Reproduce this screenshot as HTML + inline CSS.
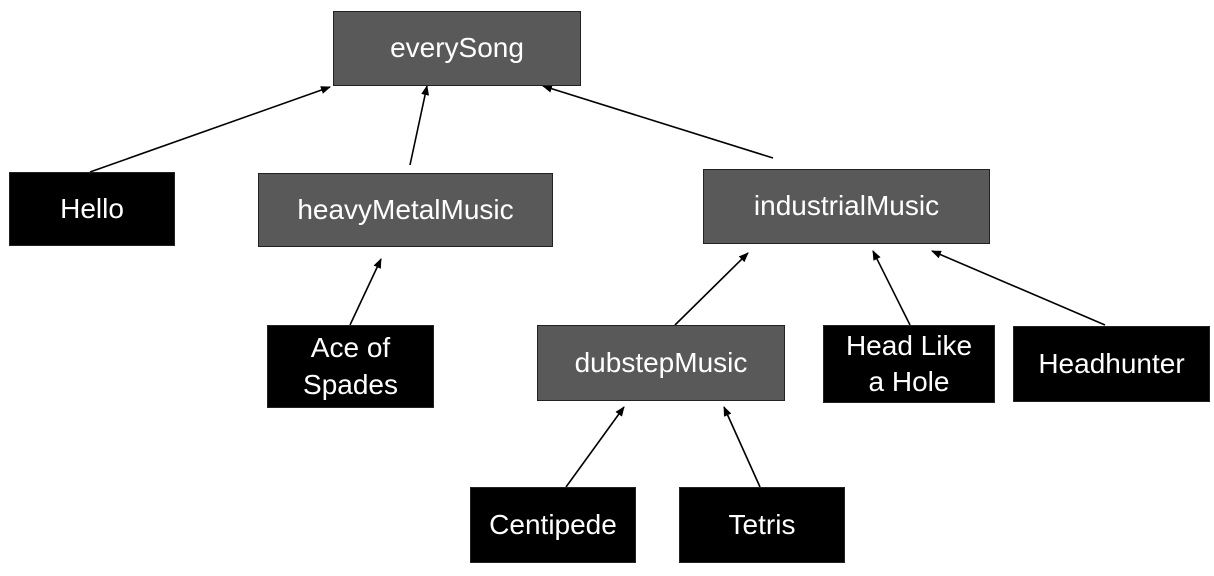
<!DOCTYPE html>
<html><head><meta charset="utf-8"><style>
body{margin:0;background:#fff;width:1214px;height:576px;overflow:hidden;position:relative;font-family:"Liberation Sans",sans-serif}
.b{position:absolute;box-sizing:border-box;border:1px solid #222;color:#fff;display:flex;align-items:center;justify-content:center;text-align:center;font-size:28px;line-height:1.3}
.g{background:#595959}.k{background:#000}
svg{position:absolute;left:0;top:0}
</style></head><body>
<svg width="1214" height="576">
<defs><marker id="a" markerWidth="10" markerHeight="8" refX="9" refY="4" orient="auto" markerUnits="userSpaceOnUse"><path d="M0,0L10,4L0,8z" fill="#000"/></marker></defs>
<g stroke="#000" stroke-width="1.6" marker-end="url(#a)">
<line x1="90" y1="172" x2="330" y2="87"/>
<line x1="410" y1="165" x2="427" y2="86"/>
<line x1="773" y1="158" x2="543" y2="86"/>
<line x1="350" y1="325" x2="381" y2="259"/>
<line x1="675" y1="325" x2="748" y2="253"/>
<line x1="910" y1="325" x2="873" y2="251"/>
<line x1="1105" y1="325" x2="932" y2="251"/>
<line x1="566" y1="487" x2="624" y2="407"/>
<line x1="760" y1="487" x2="724" y2="407"/>
</g></svg>
<div class="b g" style="left:333px;top:11px;width:248px;height:75px">everySong</div>
<div class="b k" style="left:9px;top:172px;width:166px;height:74px">Hello</div>
<div class="b g" style="left:258px;top:173px;width:295px;height:74px">heavyMetalMusic</div>
<div class="b g" style="left:703px;top:169px;width:287px;height:75px">industrialMusic</div>
<div class="b k" style="left:267px;top:325px;width:167px;height:83px">Ace of<br>Spades</div>
<div class="b g" style="left:537px;top:325px;width:248px;height:76px">dubstepMusic</div>
<div class="b k" style="left:823px;top:325px;width:172px;height:78px">Head Like<br>a Hole</div>
<div class="b k" style="left:1013px;top:326px;width:197px;height:76px">Headhunter</div>
<div class="b k" style="left:470px;top:487px;width:166px;height:76px">Centipede</div>
<div class="b k" style="left:679px;top:487px;width:166px;height:76px">Tetris</div>
</body></html>
